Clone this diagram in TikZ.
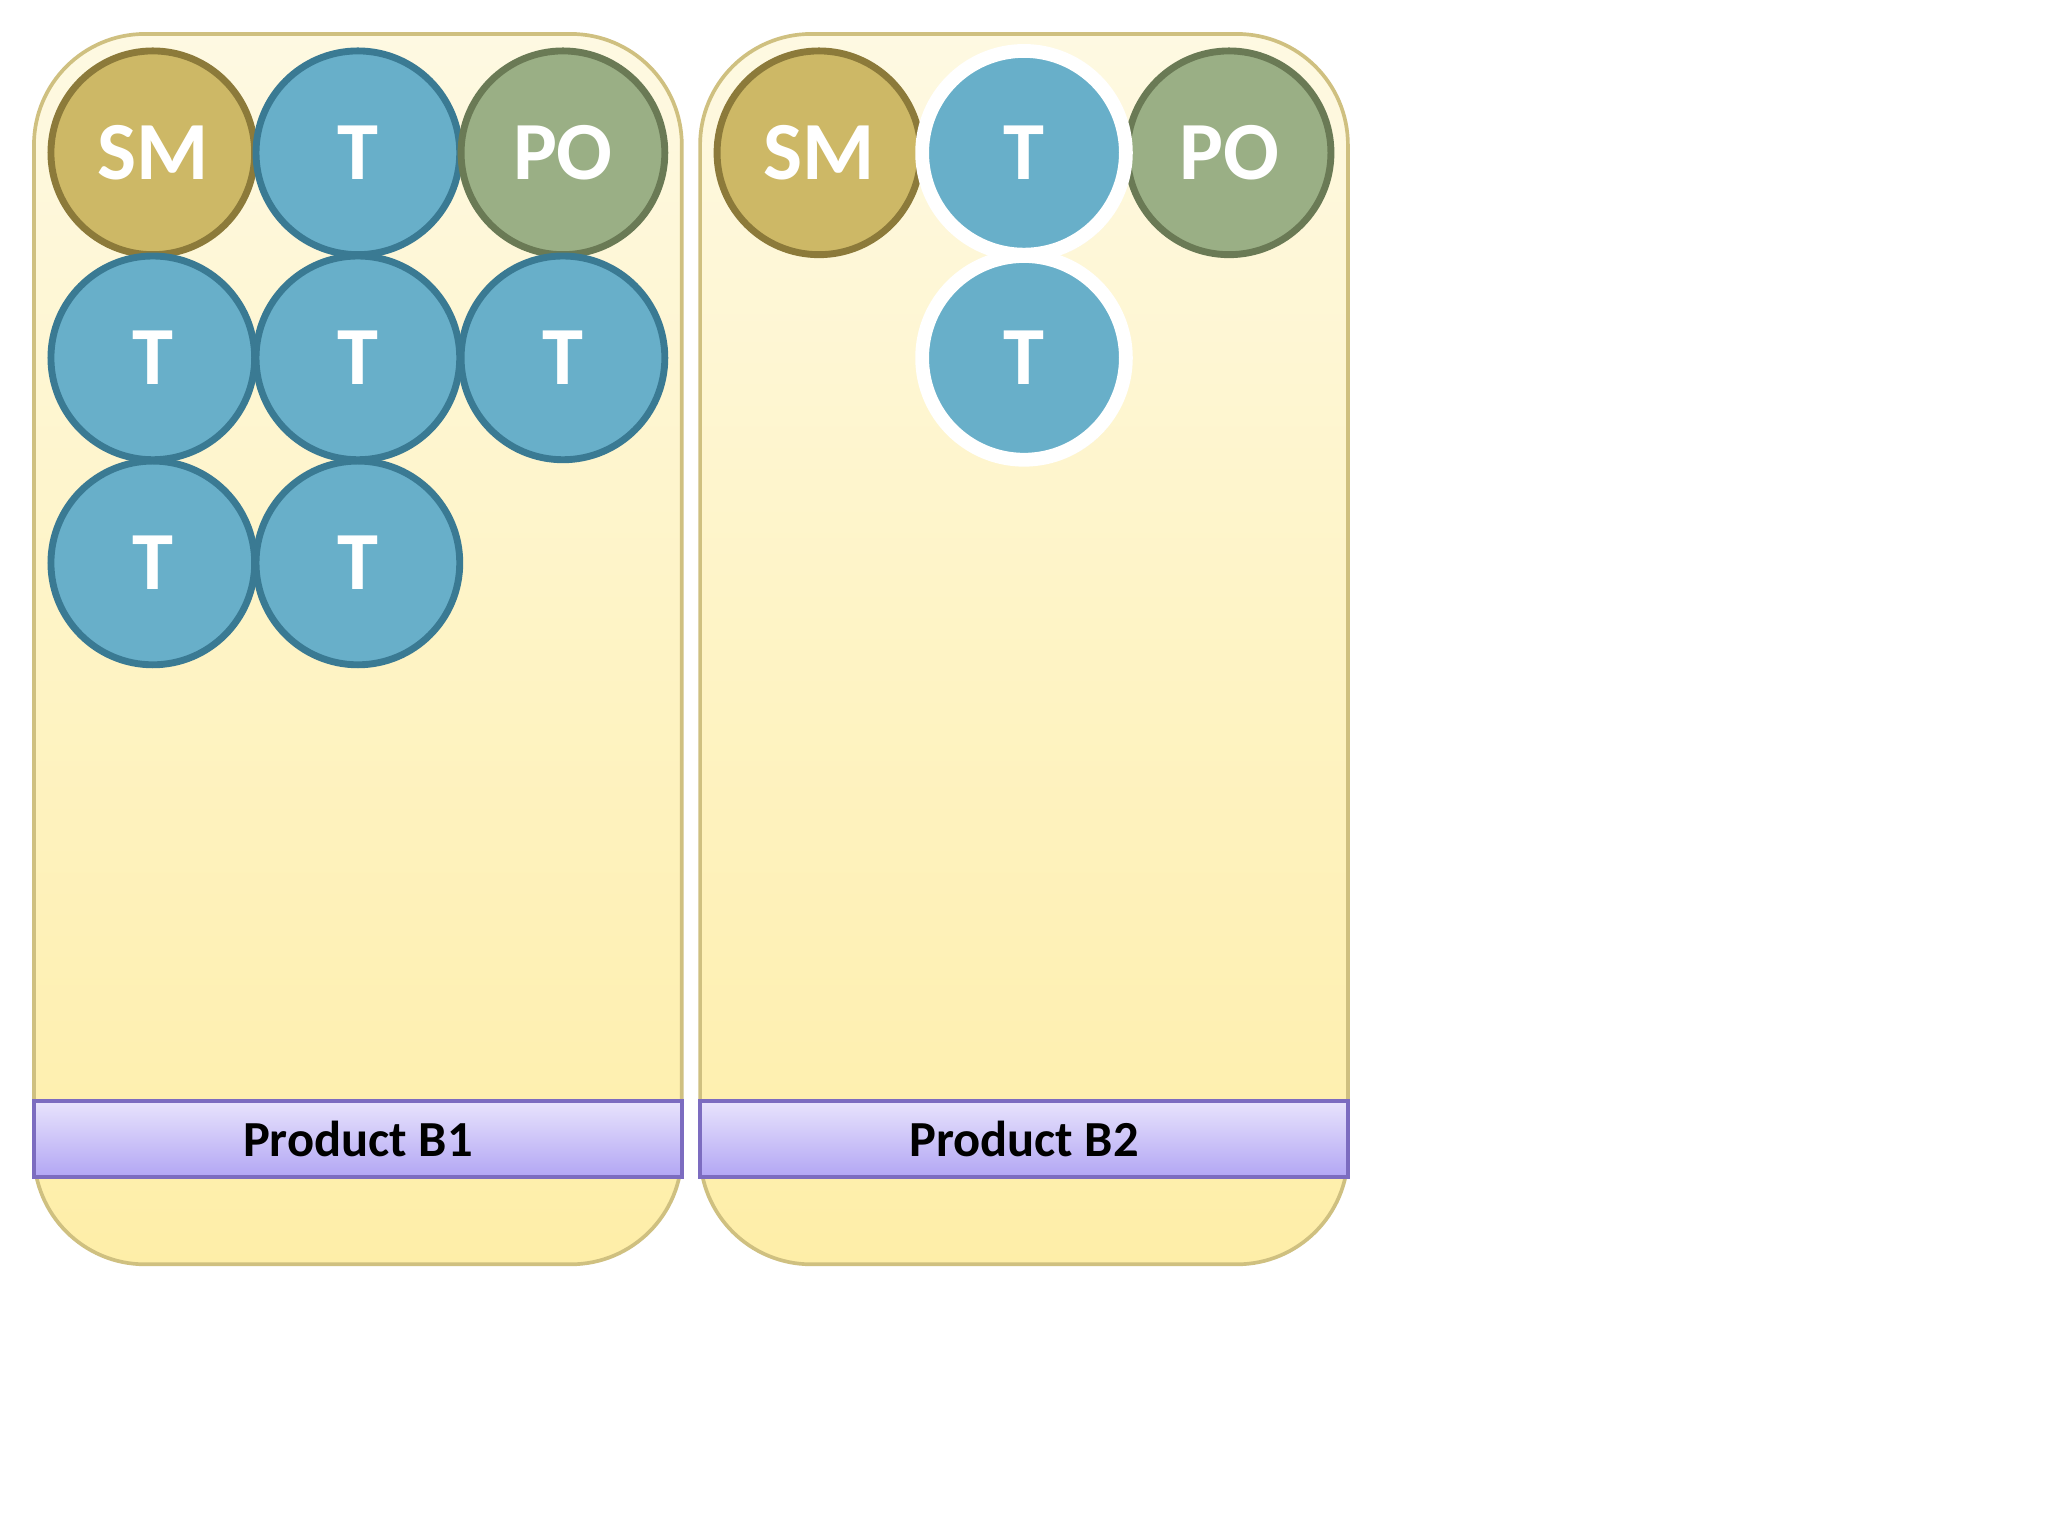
\documentclass[tikz,border=0pt]{standalone}
\usepackage{fontspec}
\setmainfont{Carlito}
\usetikzlibrary{shadows}
\definecolor{smf}{HTML}{CDB866}\definecolor{smd}{HTML}{8C7A3A}
\definecolor{tf}{HTML}{68AFC9}\definecolor{td}{HTML}{3A7A93}
\definecolor{pof}{HTML}{9AAF85}\definecolor{pod}{HTML}{6A7A55}
\definecolor{pantop}{HTML}{FEF9E2}\definecolor{panbot}{HTML}{FEEEA8}\definecolor{pand}{HTML}{CFC080}
\definecolor{bandtop}{HTML}{E8E3FC}\definecolor{bandbot}{HTML}{B2A6F4}\definecolor{bandd}{HTML}{7C6CC0}
\tikzset{
 panel/.style={draw=pand,line width=0.8pt,rounded corners=0.85cm,top color=pantop,bottom color=panbot},
 band/.style={draw=bandd,line width=0.8pt,top color=bandtop,bottom color=bandbot,minimum width=4.96cm,minimum height=0.58cm,inner sep=0pt,font=\fontsize{11}{13}\selectfont\bfseries},
 role/.style={circle,minimum size=1.56cm,inner sep=0pt,line width=1.5pt,text=white,font=\fontsize{18}{20}\selectfont\bfseries},
 sm/.style={role,draw=smd,fill=smf},
 tm/.style={role,draw=td,fill=tf},
 po/.style={role,draw=pod,fill=pof},
 tw/.style={role,draw=white,line width=3pt,fill=tf,drop shadow={opacity=0.3,shadow xshift=0.03cm,shadow yshift=-0.04cm}}
}
\begin{document}
\begin{tikzpicture}
\useasboundingbox (0,0) rectangle (15.68,-11.76);
\fill[white] (0,0) rectangle (15.68,-11.76);
\draw[panel] (0.26,-0.26) rectangle (5.22,-9.68);
\draw[panel] (5.36,-0.26) rectangle (10.32,-9.68);
\node[band] (b1) at (2.74,-8.72) {Product B1};
\node[band] (b2) at (7.84,-8.72) {Product B2};
\node[sm] (s1) at (1.17,-1.17) {SM};
\node[tm] (t1) at (2.74,-1.17) {T};
\node[po] (p1) at (4.31,-1.17) {PO};
\node[tm] (t2) at (1.17,-2.74) {T};
\node[tm] (t3) at (2.74,-2.74) {T};
\node[tm] (t4) at (4.31,-2.74) {T};
\node[tm] (t5) at (1.17,-4.31) {T};
\node[tm] (t6) at (2.74,-4.31) {T};
\node[sm] (s2) at (6.27,-1.17) {SM};
\node[po] (p2) at (9.41,-1.17) {PO};
\node[tw] (t7) at (7.84,-1.17) {T};
\node[tw] (t8) at (7.84,-2.74) {T};
\end{tikzpicture}
\end{document}
